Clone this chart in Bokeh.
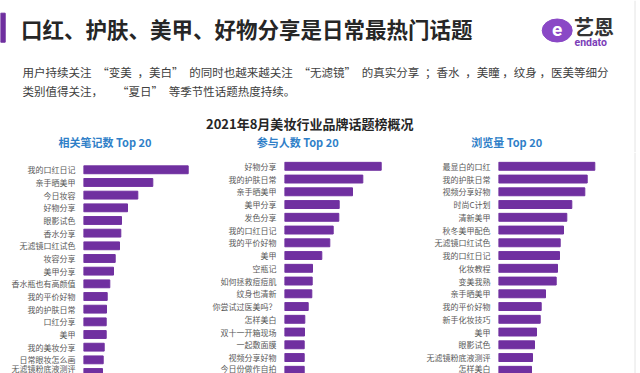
from bokeh.plotting import figure
from bokeh.layouts import column, row
from bokeh.models import Range1d, FixedTicker, ColumnDataSource
from bokeh.core.properties import value
from bokeh.embed import file_html
from bokeh.resources import INLINE

FONT = "Noto Sans CJK SC"
PURPLE = "#7030a0"
BLUE = "#2f7fc8"

# ---------------- data ----------------
title_text = "口红、护肤、美甲、好物分享是日常最热门话题"
subtitle_lines = [
    "用户持续关注\u2002“变美\u2002，美白”\u2002的同时也越来越关注\u2002“无滤镜”\u2002的真实分享\u2002；香水\u2002，美瞳 ，纹身 ，医美等细分",
    "类别值得关注，\u3000\u2002 “夏日”\u2002等季节性话题热度持续。",
]
chart_title = "2021年8月美妆行业品牌话题榜概况"
panel_titles = ["相关笔记数 Top 20", "参与人数 Top 20", "浏览量 Top 20"]

notes_labels = ["我的口红日记", "亲手晒美甲", "今日妆容", "好物分享", "眼影试色", "香水分享",
                "无滤镜口红试色", "妆容分享", "美甲分享", "香水瓶也有高颜值", "我的平价好物",
                "我的护肤日常", "口红分享", "美甲", "我的美妆分享", "日常眼妆怎么画", "无滤镜粉底液测评"]
notes_values = [104.7, 69.3, 54.3, 44.0, 38.0, 37.3, 36.0, 31.7, 30.0, 26.3, 23.7,
                23.0, 22.7, 22.7, 20.7, 19.7, 19.0]

people_labels = ["好物分享", "我的护肤日常", "亲手晒美甲", "美甲分享", "发色分享", "我的口红日记",
                 "我的平价好物", "美甲", "空瓶记", "如何拯救痘痘肌", "纹身也清新", "你尝试过医美吗？",
                 "怎样美白", "双十一开箱现场", "一起敷面膜", "视频分享好物", "今日份做作自拍"]
people_values = [96.7, 78.3, 68.0, 54.7, 54.3, 48.7, 45.3, 37.3, 28.0, 27.7, 27.3,
                 23.7, 20.3, 20.0, 19.7, 19.7, 19.7]

views_labels = ["最显白的口红", "我的护肤日常", "视频分享好物", "时尚C计划", "清新美甲", "秋冬美甲配色",
                "无滤镜口红试色", "我的口红日记", "化妆教程", "变美我熟", "亲手晒美甲", "我的平价好物",
                "新手化妆技巧", "美甲", "眼影试色", "无滤镜粉底液测评", "怎样美白"]
views_values = [96.3, 88.7, 86.3, 73.3, 68.3, 65.0, 61.7, 61.0, 59.0, 57.7, 47.0,
                42.7, 41.7, 38.0, 36.0, 34.0, 33.0]

# ---------------- header ----------------
W, HH, PH = 640, 152, 221
header = figure(width=W, height=HH, x_range=Range1d(0, W), y_range=Range1d(HH, 0),
                x_axis_type=None, y_axis_type=None, output_backend="svg",
                toolbar_location=None, min_border=0)
header.grid.visible = False
header.outline_line_color = None

header.quad(left=[0], right=[4.7], top=[12.7], bottom=[41.7], color="#6f2f9f")
header.text(x=[20.5], y=[28], text=[title_text], text_font=value(FONT), text_font_size="21.5px",
            text_font_style="bold", text_color="#262626", text_baseline="middle", text_align="left")
header.segment(x0=[634.5], y0=[0], x1=[634.5], y1=[HH], line_color="#e4e4e4", line_width=1)

# logo
header.ellipse(x=[556.7], y=[30], width=30, height=23, color="#8a48c6")
header.text(x=[556.7], y=[29], text=["e"], text_font=value("Roboto"), text_font_size="19px",
            text_font_style="bold", text_color="white", text_baseline="middle", text_align="center")
header.text(x=[573.5], y=[26], text=["艺恩"], text_font=value(FONT), text_font_size="20px",
            text_font_style="bold", text_color="#333333", text_baseline="middle", text_align="left")
header.text(x=[574], y=[41.7], text=["endato"], text_font=value("Roboto"), text_font_size="10.5px",
            text_font_style="bold", text_color="#7b3db8", text_baseline="middle", text_align="left")

header.text(x=[22, 22], y=[71.7, 90.7], text=subtitle_lines, text_font=value(FONT),
            text_font_size="11.5px", text_color="#404040", text_baseline="middle", text_align="left")
header.text(x=[309.2], y=[122.7], text=[chart_title], text_font=value(FONT), text_font_size="13px",
            text_font_style="bold", text_color="#262626", text_baseline="middle", text_align="center")
header.text(x=[104.5, 297.2, 506.2], y=[141.7, 141.7, 141.7], text=panel_titles, text_font=value(FONT),
            text_font_size="11px", text_font_style="bold", text_color=BLUE,
            text_baseline="middle", text_align="center")


# ---------------- panels ----------------
def panel(labels, vals, width, left_border, first_row_px, spacing, edge_line=None):
    idx = list(range(len(labels)))
    frame_w = width - left_border
    top_val = -first_row_px / spacing
    bottom_val = top_val + PH / spacing
    p = figure(width=width, height=PH, x_range=Range1d(0, frame_w),
               y_range=Range1d(bottom_val, top_val), x_axis_type=None,
               output_backend="svg", toolbar_location=None,
               min_border_left=left_border, min_border_right=0,
               min_border_top=0, min_border_bottom=0)
    p.grid.visible = False
    p.outline_line_color = None
    src = ColumnDataSource(dict(y=idx, v=vals))
    p.hbar(y="y", right="v", left=0, height=0.62, source=src, color=PURPLE)
    if edge_line is not None:
        p.segment(x0=[edge_line], y0=[bottom_val], x1=[edge_line], y1=[top_val],
                  line_color="#e4e4e4", line_width=1)
    ax = p.yaxis[0]
    ax.ticker = FixedTicker(ticks=idx)
    ax.major_label_overrides = {i: lab for i, lab in zip(idx, labels)}
    ax.axis_line_color = None
    ax.major_tick_line_color = None
    ax.minor_tick_line_color = None
    ax.major_tick_out = 0
    ax.major_tick_in = 0
    ax.major_label_standoff = 8
    ax.major_label_text_font = FONT
    ax.major_label_text_font_size = "8px"
    ax.major_label_text_color = "#595959"
    return p


p1 = panel(notes_labels, notes_values, 205, 83, 17.3, 12.67)
p2 = panel(people_labels, people_values, 214, 79, 13.8, 12.75)
p3 = panel(views_labels, views_values, 221, 79, 13.8, 12.75, edge_line=634.5 - 498)

layout = column(header, row(p1, p2, p3))
open("out.html", "w").write(file_html(layout, INLINE))
